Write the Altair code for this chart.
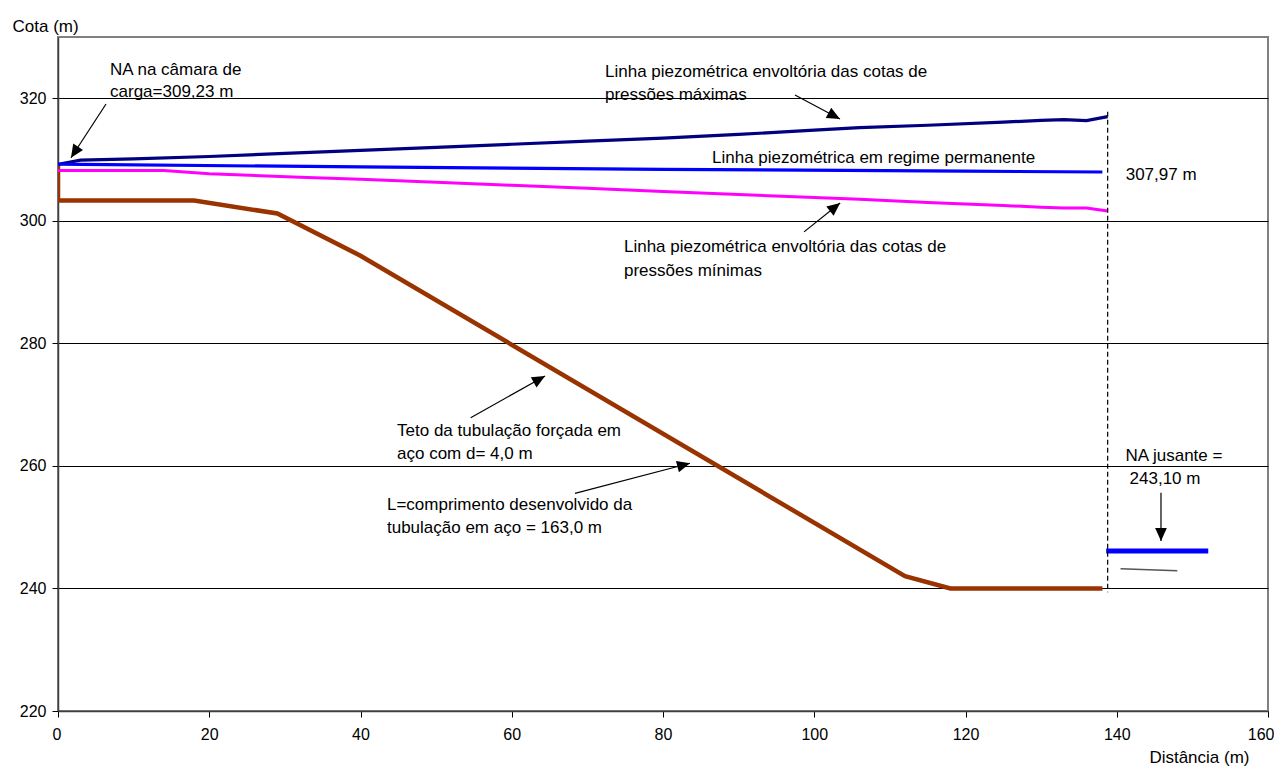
import math
import altair as alt
import pandas as pd

# ---------------- data ----------------
max_x = [0, 3, 10, 20, 30, 40, 50, 60, 70, 80, 90, 100, 106, 115, 125, 130, 133, 136, 138.8]
max_y = [309.23, 309.9, 310.1, 310.5, 311.0, 311.5, 312.0, 312.5, 313.0, 313.5, 314.1, 314.8,
         315.2, 315.6, 316.1, 316.4, 316.5, 316.35, 317.0]

perm_x = [0, 3, 40, 80, 120, 138.1]
perm_y = [309.23, 309.2, 308.8, 308.4, 308.1, 307.97]

min_x = [0, 14, 20, 32, 40, 50, 60, 70, 80, 90, 100, 106, 115, 125, 130, 133, 136, 138.8]
min_y = [308.2, 308.2, 307.7, 307.1, 306.8, 306.3, 305.8, 305.3, 304.8, 304.3, 303.8, 303.5,
         303.0, 302.5, 302.2, 302.1, 302.1, 301.6]

pipe_x = [0, 0, 18, 29, 40, 112, 118, 138.1]
pipe_y = [309.1, 303.3, 303.3, 301.2, 294.3, 242.0, 240.0, 240.0]

jus_x = [138.6, 152.1]
jus_y = [246.1, 246.1]

ref_x = [140.5, 148.0]
ref_y = [243.2, 242.9]

dash_x = [138.8, 138.8]
dash_y = [317.8, 239.4]

ann_text = ["NA na câmara de", "carga=309,23 m",
            "Linha piezométrica envoltória das cotas de", "pressões máximas",
            "Linha piezométrica em regime permanente",
            "307,97 m",
            "Linha piezométrica envoltória das cotas de", "pressões mínimas",
            "Teto da tubulação forçada em", "aço com d= 4,0 m",
            "L=comprimento desenvolvido da", "tubulação em aço = 163,0 m",
            "NA jusante =", "243,10 m"]
ann_x = [6.88, 6.88, 72.33, 72.33, 86.48, 141.18, 74.84, 74.84, 44.83, 44.83, 43.5, 43.5,
         147.57, 146.38]
ann_y = [324.6, 321.1, 324.3, 320.5, 310.25, 307.5, 295.7, 291.8, 265.7, 261.9, 253.6, 249.9,
         261.6, 257.9]
ann_align = ["left"] * 12 + ["center", "center"]

arr_x0 = [6.35, 97.45, 98.65, 54.57, 68.36, 145.85]
arr_y0 = [319.07, 320.54, 298.2, 267.87, 255.53, 255.63]
arr_x1 = [1.72, 103.4, 103.42, 64.4, 83.57, 145.85]
arr_y1 = [310.3, 316.62, 302.9, 274.68, 260.43, 247.75]

x_ticks = list(range(0, 161, 20))
y_ticks = list(range(220, 321, 20))

# ---------------- chart ----------------
W, H = 1210, 674
X_DOM, Y_DOM = [0, 160], [220, 330]
FONT = "Liberation Sans, Arial, sans-serif"

xs = alt.Scale(domain=X_DOM, nice=False, zero=False)
ys = alt.Scale(domain=Y_DOM, nice=False, zero=False)

x_axis = alt.Axis(values=x_ticks, grid=False, tickSize=6, labelPadding=9, labelFontSize=16,
                  labelFont=FONT, labelColor="black", tickColor="black",
                  domainColor="#404040", domainWidth=1.5,
                  title="Distância (m)", titleFont=FONT, titleFontSize=17,
                  titleFontWeight="normal", titleColor="black", titleAlign="right",
                  titleBaseline="alphabetic", titleX=1191, titleY=51,
                  labelFlush=True, labelFlushOffset=6)
y_axis = alt.Axis(values=y_ticks, grid=True, gridColor="black", gridWidth=1,
                  tickSize=6, labelPadding=6, labelFontSize=16, labelFont=FONT,
                  labelColor="black", tickColor="black",
                  domainColor="#404040", domainWidth=1.5,
                  title="Cota (m)", titleFont=FONT, titleFontSize=17,
                  titleFontWeight="normal", titleColor="black", titleAngle=0,
                  titleAlign="left", titleBaseline="alphabetic", titleX=-46, titleY=-6)


def X(field):
    return alt.X(field, scale=xs, axis=x_axis)


def Y(field):
    return alt.Y(field, scale=ys, axis=y_axis)


def line_layer(xv, yv, color, width, dash=None):
    df = pd.DataFrame({"x": xv, "y": yv, "o": range(len(xv))})
    kw = dict(color=color, strokeWidth=width, clip=True)
    if dash:
        kw["strokeDash"] = dash
    return alt.Chart(df).mark_line(**kw).encode(x=X("x:Q"), y=Y("y:Q"), order="o:Q")


pipe = line_layer(pipe_x, pipe_y, "#993300", 4.5)
maxl = line_layer(max_x, max_y, "#000080", 3.2)
perm = line_layer(perm_x, perm_y, "#0000FF", 3.2)
minl = line_layer(min_x, min_y, "#FF00FF", 3.0)
jus = line_layer(jus_x, jus_y, "#0000FF", 5)
refl = line_layer(ref_x, ref_y, "#555555", 1.5)
dash = line_layer(dash_x, dash_y, "black", 1.2, dash=[5, 3])

ann_df = pd.DataFrame({"t": ann_text, "x": ann_x, "y": ann_y, "a": ann_align})
texts = []
for al in ["left", "center"]:
    texts.append(
        alt.Chart(ann_df[ann_df["a"] == al]).mark_text(
            align=al, baseline="middle", font=FONT, fontSize=17, color="black"
        ).encode(x=X("x:Q"), y=Y("y:Q"), text="t:N")
    )

sx = W / (X_DOM[1] - X_DOM[0])
sy = H / (Y_DOM[1] - Y_DOM[0])
angles = [math.degrees(math.atan2((b - a) * sx, (d - c) * sy)) % 360
          for a, b, c, d in zip(arr_x0, arr_x1, arr_y0, arr_y1)]
arr_df = pd.DataFrame({"x0": arr_x0, "y0": arr_y0, "x1": arr_x1, "y1": arr_y1, "ang": angles})

shafts = alt.Chart(arr_df).mark_rule(color="black", strokeWidth=1.2).encode(
    x=X("x0:Q"), y=Y("y0:Q"), x2="x1:Q", y2="y1:Q")
heads = alt.Chart(arr_df).mark_point(
    shape="M0,0L-0.9,2L0.9,2Z", filled=True, color="black", opacity=1, size=169, strokeWidth=0
).encode(x=X("x1:Q"), y=Y("y1:Q"), angle=alt.Angle("ang:Q", scale=None))

chart = alt.layer(pipe, maxl, perm, minl, jus, refl, dash, shafts, heads, *texts).properties(
    width=W, height=H,
    autosize=alt.AutoSizeParams(type="none"),
    padding={"left": 50, "top": 29, "right": 6, "bottom": 57},
    background="white",
).configure_view(stroke="#808080", strokeWidth=2)

chart.save("out.html", embed_options={"renderer": "svg", "actions": False})
